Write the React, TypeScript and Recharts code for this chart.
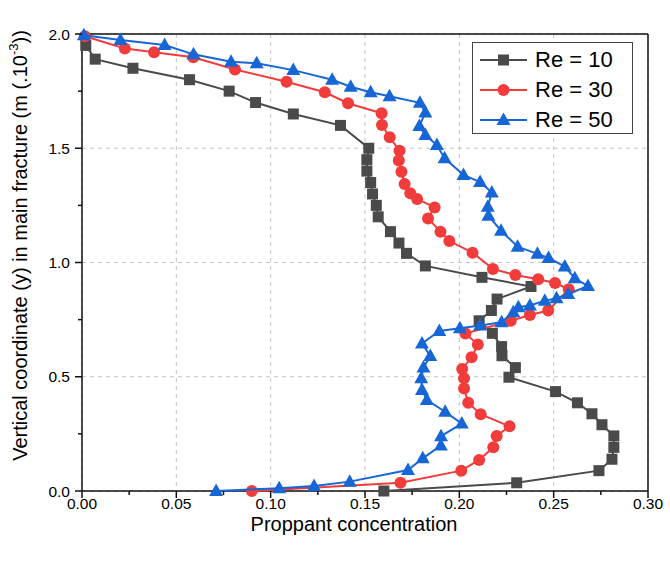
import React from "react"
import { ScatterChart, Scatter, XAxis, YAxis, CartesianGrid, Legend } from "recharts"

// Re = 10 (black squares)
const re10X = [0.002, 0.007, 0.027, 0.057, 0.078, 0.092, 0.112, 0.137, 0.152, 0.151, 0.151, 0.153, 0.154, 0.156, 0.157, 0.1635, 0.168, 0.172, 0.182, 0.212, 0.238, 0.22, 0.217, 0.2105, 0.2175, 0.2224, 0.2226, 0.2297, 0.2263, 0.251, 0.2626, 0.2703, 0.2756, 0.2819, 0.2819, 0.2809, 0.274, 0.2304, 0.16]
const re10Y = [1.95, 1.89, 1.85, 1.8, 1.75, 1.7, 1.65, 1.6, 1.5, 1.45, 1.4, 1.35, 1.3, 1.25, 1.2, 1.135, 1.085, 1.04, 0.985, 0.935, 0.895, 0.84, 0.79, 0.745, 0.69, 0.632, 0.592, 0.54, 0.498, 0.435, 0.386, 0.338, 0.29, 0.241, 0.191, 0.139, 0.089, 0.036, 0.0]

// Re = 30 (red circles)
const re30X = [0.0015, 0.0227, 0.0382, 0.059, 0.0811, 0.1084, 0.1287, 0.141, 0.1588, 0.159, 0.1631, 0.1683, 0.1679, 0.1693, 0.171, 0.174, 0.1776, 0.1869, 0.1834, 0.19, 0.1947, 0.207, 0.2178, 0.2297, 0.2418, 0.2507, 0.258, 0.2471, 0.2374, 0.2273, 0.2032, 0.2098, 0.2065, 0.2015, 0.2025, 0.2025, 0.2047, 0.2113, 0.2266, 0.2198, 0.218, 0.2105, 0.201, 0.1688, 0.09]
const re30Y = [1.99, 1.937, 1.92, 1.898, 1.845, 1.791, 1.745, 1.697, 1.653, 1.602, 1.548, 1.489, 1.446, 1.397, 1.344, 1.303, 1.278, 1.241, 1.193, 1.135, 1.094, 1.043, 0.972, 0.945, 0.927, 0.91, 0.883, 0.79, 0.77, 0.745, 0.689, 0.641, 0.585, 0.534, 0.493, 0.449, 0.386, 0.336, 0.283, 0.241, 0.191, 0.136, 0.089, 0.036, 0.0]

// Re = 50 (blue triangles)
const re50X = [0.001, 0.0204, 0.0438, 0.0591, 0.079, 0.0926, 0.112, 0.1326, 0.1424, 0.153, 0.163, 0.1791, 0.182, 0.1788, 0.182, 0.1881, 0.1922, 0.2022, 0.211, 0.2172, 0.2151, 0.2154, 0.2221, 0.2309, 0.2414, 0.2473, 0.2559, 0.2612, 0.2682, 0.2577, 0.2515, 0.2453, 0.2374, 0.2313, 0.2286, 0.2224, 0.211, 0.2003, 0.1894, 0.1802, 0.1846, 0.181, 0.1798, 0.1802, 0.1828, 0.1925, 0.2013, 0.1903, 0.1902, 0.1806, 0.1728, 0.1419, 0.123, 0.1045, 0.0711]
const re50Y = [1.995, 1.974, 1.952, 1.911, 1.879, 1.872, 1.842, 1.8, 1.769, 1.745, 1.728, 1.699, 1.656, 1.597, 1.558, 1.514, 1.456, 1.383, 1.352, 1.306, 1.244, 1.205, 1.139, 1.069, 1.038, 1.02, 0.982, 0.931, 0.897, 0.862, 0.843, 0.833, 0.812, 0.804, 0.782, 0.739, 0.724, 0.712, 0.7, 0.646, 0.591, 0.54, 0.493, 0.442, 0.398, 0.347, 0.295, 0.24, 0.199, 0.143, 0.092, 0.041, 0.022, 0.012, 0.0]

const seriesNames = ["Re = 10", "Re = 30", "Re = 50"]

const xTicks = [0, 0.05, 0.1, 0.15, 0.2, 0.25, 0.3]
const xMinorTicks = [0.025, 0.075, 0.125, 0.175, 0.225, 0.275]
const yTicks = [0, 0.5, 1, 1.5, 2]
const yMinorTicks = [0.25, 0.75, 1.25, 1.75]

const FONT = "'Liberation Sans', Arial, sans-serif"
const AXIS = "#111"
const MAJOR = 7
const MINOR = 4

const xAllTicks = [...xTicks, ...xMinorTicks].sort((a, b) => a - b)
const yAllTicks = [...yTicks, ...yMinorTicks].sort((a, b) => a - b)
const isMajor = (v: number, list: number[]) => list.some((t) => Math.abs(t - v) < 1e-9)

const toPoints = (xs: number[], ys: number[]) => xs.map((x, i) => ({ x, y: ys[i] }))

const series = [
  { name: seriesNames[0], data: toPoints(re10X, re10Y), color: "#4a4a4a", kind: "square" },
  { name: seriesNames[1], data: toPoints(re30X, re30Y), color: "#f23c3c", kind: "circle" },
  { name: seriesNames[2], data: toPoints(re50X, re50Y), color: "#1766d6", kind: "triangle" },
]

function Marker({ kind, cx, cy, color }: { kind: string; cx: number; cy: number; color: string }) {
  if (kind === "square") return <rect x={cx - 5.5} y={cy - 5.5} width={11} height={11} fill={color} />
  if (kind === "circle") return <circle cx={cx} cy={cy} r={6} fill={color} />
  return <polygon points={`${cx},${cy - 7.5} ${cx + 7},${cy + 5} ${cx - 7},${cy + 5}`} fill={color} />
}

// ticks are drawn by hand so major and minor marks can share one axis
function BottomTick({ x, y, payload }: any) {
  const major = isMajor(payload.value, xTicks)
  return (
    <g>
      <line x1={x} y1={y} x2={x} y2={y + (major ? MAJOR : MINOR)} stroke={AXIS} strokeWidth={1.5} />
      {major && (
        <text x={x} y={y + MAJOR} dy="0.71em" textAnchor="middle" fontSize={15.5} fontFamily={FONT} fill="#000">
          {payload.value.toFixed(2)}
        </text>
      )}
    </g>
  )
}

function TopTick({ x, y, payload }: any) {
  const major = isMajor(payload.value, xTicks)
  return <line x1={x} y1={y} x2={x} y2={y + (major ? MAJOR : MINOR)} stroke={AXIS} strokeWidth={1.5} />
}

function LeftTick({ x, y, payload }: any) {
  const major = isMajor(payload.value, yTicks)
  return (
    <g>
      <line x1={x} y1={y} x2={x - (major ? MAJOR : MINOR)} y2={y} stroke={AXIS} strokeWidth={1.5} />
      {major && (
        <text x={x - MAJOR - 5} y={y} dy="0.355em" textAnchor="end" fontSize={15.5} fontFamily={FONT} fill="#000">
          {payload.value.toFixed(1)}
        </text>
      )}
    </g>
  )
}

function RightTick({ x, y, payload }: any) {
  const major = isMajor(payload.value, yTicks)
  return <line x1={x} y1={y} x2={x + (major ? MAJOR : MINOR)} y2={y} stroke={AXIS} strokeWidth={1.5} />
}

function XLabel({ viewBox }: any) {
  const x = viewBox.x + viewBox.width / 2 - 11
  return (
    <text x={x} y={viewBox.y + 40} textAnchor="middle" fontSize={20} fontFamily={FONT} fill="#000">
      Proppant concentration
    </text>
  )
}

function YLabel({ viewBox }: any) {
  const cx = viewBox.x + viewBox.width - 62
  const cy = viewBox.y + viewBox.height / 2 - 17
  return (
    <text
      x={cx}
      y={cy}
      transform={`rotate(-90 ${cx} ${cy})`}
      textAnchor="middle"
      dominantBaseline="central"
      fontSize={20}
      fontFamily={FONT}
      fill="#000"
    >
      Vertical coordinate (y) in main fracture (m (.10
      <tspan dy={-7} fontSize={13}>-3</tspan>
      <tspan dy={7}>))</tspan>
    </text>
  )
}

function LegendBox() {
  return (
    <div
      style={{
        width: 161,
        height: 92,
        boxSizing: "border-box",
        border: "1px solid #444",
        background: "#fff",
        paddingTop: 2,
        paddingLeft: 7,
        fontFamily: FONT,
        fontSize: 22,
        color: "#000",
      }}
    >
      {series.map((s) => (
        <div key={s.name} style={{ display: "flex", alignItems: "center", height: 30 }}>
          <svg width={47} height={20}>
            <line x1={0} y1={10} x2={47} y2={10} stroke={s.color} strokeWidth={2} />
            <Marker kind={s.kind} cx={23.5} cy={10} color={s.color} />
          </svg>
          <span style={{ marginLeft: 8, lineHeight: "30px" }}>{s.name}</span>
        </div>
      ))}
    </div>
  )
}

export default function App() {
  const axisLine = { stroke: AXIS, strokeWidth: 1.5 }
  return (
    <div style={{ position: "absolute", left: 0, top: 0, width: 670, height: 566, background: "#fff" }}>
      <ScatterChart width={670} height={566} margin={{ top: 33, right: 21, bottom: 74, left: 81 }}>
        <CartesianGrid
          xAxisId="x"
          yAxisId="y"
          verticalValues={xTicks}
          horizontalValues={yTicks}
          stroke="#c4c4c4"
          strokeDasharray="4 4"
        />
        <XAxis
          xAxisId="x"
          dataKey="x"
          type="number"
          domain={[0, 0.3]}
          ticks={xAllTicks}
          interval={0}
          height={1}
          tickSize={0}
          tickMargin={0}
          tick={<BottomTick />}
          tickLine={false}
          axisLine={axisLine}
          label={<XLabel />}
        />
        <XAxis
          xAxisId="xTop"
          orientation="top"
          type="number"
          domain={[0, 0.3]}
          ticks={xAllTicks}
          interval={0}
          height={1}
          tickSize={0}
          tickMargin={0}
          tick={<TopTick />}
          tickLine={false}
          axisLine={axisLine}
        />
        <YAxis
          yAxisId="y"
          dataKey="y"
          type="number"
          domain={[0, 2]}
          ticks={yAllTicks}
          interval={0}
          width={1}
          tickSize={0}
          tickMargin={0}
          tick={<LeftTick />}
          tickLine={false}
          axisLine={axisLine}
          label={<YLabel />}
        />
        <YAxis
          yAxisId="yRight"
          orientation="right"
          type="number"
          domain={[0, 2]}
          ticks={yAllTicks}
          interval={0}
          width={1}
          tickSize={0}
          tickMargin={0}
          tick={<RightTick />}
          tickLine={false}
          axisLine={axisLine}
        />
        {series.map((s) => (
          <Scatter
            key={s.name}
            name={s.name}
            xAxisId="x"
            yAxisId="y"
            data={s.data}
            fill={s.color}
            line={{ stroke: s.color, strokeWidth: 2 }}
            lineJointType="linear"
            isAnimationActive={false}
            shape={(p: any) => <Marker kind={s.kind} cx={p.cx} cy={p.cy} color={s.color} />}
          />
        ))}
        <Legend
          layout="vertical"
          align="center"
          verticalAlign="middle"
          wrapperStyle={{ position: "absolute", top: 42, left: 472, width: 161, height: 92 }}
          content={() => <LegendBox />}
        />
      </ScatterChart>
    </div>
  )
}
